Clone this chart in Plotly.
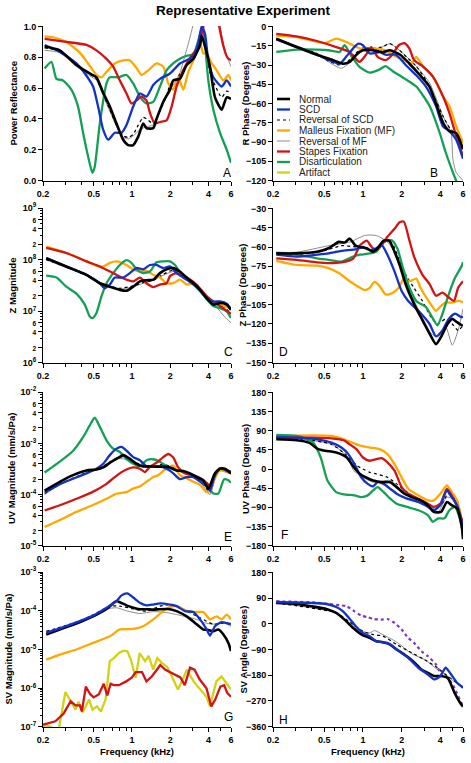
import math
import plotly.graph_objects as go

FONT = "Liberation Sans, Arial, sans-serif"

# ---------------- series styles ----------------
SERIES_NAMES = ["Normal", "SCD", "Reversal of SCD", "Malleus Fixation (MF)",
                "Reversal of MF", "Stapes Fixation", "Disarticulation", "Artifact"]
SERIES_COLORS = ["#000000", "#1432c8", "#000000", "#ffa800", "#8c8c8c",
                 "#d21414", "#14a054", "#d2d214"]
SERIES_WIDTHS = [2.6, 2.3, 1.2, 2.3, 1.0, 2.3, 2.3, 2.3]
SERIES_DASHES = ["solid", "solid", "dot", "solid", "solid", "solid", "solid", "solid"]
OTHER_COLOR = "#7a36c8"

# ---------------- tick labels ----------------
FREQ_TICKS = [0.2, 0.5, 1, 2, 4, 6]
FREQ_TICKTEXT = ["0.2", "0.5", "1", "2", "4", "6"]
FREQ_MINOR = [0.3, 0.4, 0.6, 0.7, 0.8, 0.9, 3, 5]

# ---------------- A: Power reflectance ----------------
A_NORMAL = [(0.206,0.87),(0.271,0.845),(0.366,0.75),(0.466,0.695),(0.526,0.67),(0.594,0.57),(0.67,0.48),(0.756,0.37),(0.853,0.265),(0.934,0.23),(1.023,0.23),(1.12,0.285),(1.226,0.37),(1.30,0.34),(1.47,0.34),(1.56,0.40),(1.76,0.51),(1.99,0.59),(2.11,0.65),(2.38,0.66),(2.69,0.75),(3.04,0.79),(3.43,0.88),(3.53,0.94),(3.75,0.87),(4.1,0.74),(4.49,0.54),(5.07,0.46),(5.55,0.54),(6.0,0.53)]
A_SCD = [(0.206,0.88),(0.271,0.835),(0.366,0.76),(0.439,0.68),(0.495,0.61),(0.542,0.48),(0.594,0.33),(0.65,0.265),(0.733,0.31),(0.828,0.31),(0.906,0.36),(1.023,0.48),(1.154,0.565),(1.30,0.545),(1.47,0.62),(1.66,0.66),(1.99,0.695),(2.38,0.76),(2.69,0.78),(3.04,0.81),(3.32,0.89),(3.53,1.0),(3.75,0.95),(3.98,0.78),(4.36,0.67),(5.07,0.61),(5.55,0.65),(6.0,0.61)]
A_REV_SCD = [(0.206,0.86),(0.271,0.84),(0.366,0.75),(0.466,0.69),(0.526,0.66),(0.594,0.56),(0.67,0.46),(0.756,0.36),(0.853,0.29),(0.934,0.28),(1.023,0.30),(1.12,0.36),(1.226,0.41),(1.30,0.40),(1.47,0.37),(1.66,0.45),(1.87,0.55),(1.99,0.62),(2.24,0.66),(2.53,0.72),(2.86,0.78),(3.22,0.85),(3.53,0.92),(3.75,0.88),(4.1,0.70),(4.49,0.62),(5.07,0.54),(5.55,0.58),(6.0,0.57)]
A_MF = [(0.206,0.935),(0.24,0.93),(0.305,0.90),(0.389,0.83),(0.452,0.76),(0.526,0.685),(0.576,0.67),(0.631,0.705),(0.733,0.76),(0.853,0.78),(0.963,0.78),(1.086,0.73),(1.19,0.685),(1.34,0.715),(1.56,0.76),(1.76,0.74),(1.93,0.63),(2.11,0.59),(2.31,0.67),(2.53,0.59),(2.77,0.705),(3.04,0.78),(3.43,0.89),(3.64,0.825),(3.87,0.825),(4.23,0.76),(4.63,0.715),(5.23,0.65),(5.72,0.685),(6.0,0.65)]
A_REV_MF = [(0.206,0.845),(0.271,0.83),(0.366,0.74),(0.466,0.68),(0.526,0.65),(0.594,0.55),(0.67,0.45),(0.756,0.35),(0.853,0.28),(0.934,0.27),(1.023,0.29),(1.154,0.33),(1.30,0.35),(1.47,0.36),(1.66,0.45),(1.87,0.56),(2.11,0.62),(2.38,0.70),(2.69,0.85),(2.94,0.97),(3.1,1.05),(3.5,1.2),(4.2,1.2),(4.8,1.05),(5.2,0.9),(5.6,0.8),(6.0,0.74)]
A_STAPES = [(0.206,0.92),(0.305,0.90),(0.439,0.88),(0.526,0.845),(0.631,0.79),(0.712,0.74),(0.803,0.65),(0.906,0.565),(0.992,0.50),(1.086,0.52),(1.19,0.545),(1.30,0.52),(1.383,0.44),(1.51,0.37),(1.66,0.38),(1.87,0.39),(2.05,0.48),(2.24,0.61),(2.46,0.695),(2.69,0.76),(2.94,0.81),(3.32,0.87),(3.53,0.95),(3.64,1.0),(3.9,1.15),(4.5,1.15),(4.85,1.0),(5.2,0.88),(5.6,0.80),(6.0,0.78)]
A_DISART = [(0.206,0.727),(0.233,0.77),(0.255,0.66),(0.287,0.65),(0.334,0.59),(0.377,0.48),(0.413,0.31),(0.452,0.157),(0.489,0.05),(0.51,0.09),(0.559,0.37),(0.631,0.63),(0.67,0.67),(0.779,0.67),(0.906,0.685),(1.023,0.63),(1.154,0.545),(1.30,0.50),(1.47,0.51),(1.66,0.61),(1.87,0.715),(2.11,0.76),(2.38,0.79),(2.69,0.81),(3.04,0.82),(3.43,0.95),(3.59,1.0),(3.75,0.89),(3.98,0.65),(4.36,0.46),(4.92,0.31),(5.55,0.2),(6.0,0.115)]

# ---------------- B: R phase (degrees) ----------------
B_NORMAL = [(0.212,-9.5),(0.305,-16),(0.439,-22),(0.58,-26),(0.70,-29),(0.79,-27.5),(0.89,-22),(1.0,-18.5),(1.2,-18.5),(1.43,-20),(1.62,-18.5),(1.95,-22),(2.3,-29),(2.7,-36.5),(3.3,-47),(3.7,-60),(4.2,-75),(4.7,-81.5),(5.3,-83),(6.0,-95.6)]
B_SCD = [(0.212,-10),(0.305,-16),(0.439,-22),(0.54,-26),(0.66,-29),(0.74,-23.6),(0.84,-17),(0.92,-13.4),(1.0,-14.6),(1.13,-21),(1.35,-20),(1.5,-22),(1.8,-22),(2.2,-31),(2.6,-38),(3.1,-47),(3.7,-62),(4.2,-78),(4.7,-81.5),(5.3,-88),(6.0,-103)]
B_REV_SCD = [(0.212,-9.5),(0.305,-15.5),(0.439,-21),(0.54,-27),(0.66,-30),(0.75,-28),(0.85,-22),(1.0,-17),(1.2,-17),(1.4,-16),(1.62,-13.4),(1.85,-17),(2.2,-24),(2.6,-31),(3.1,-42),(3.6,-55),(4.2,-70),(4.8,-80),(5.3,-84),(6.0,-90)]
B_MF = [(0.212,-7),(0.305,-8.2),(0.439,-12),(0.51,-12.9),(0.62,-9.5),(0.74,-12),(0.89,-16),(1.05,-18.5),(1.27,-17.2),(1.5,-18.5),(1.82,-23.6),(2.1,-26.2),(2.4,-28.8),(2.6,-23.6),(2.95,-31.4),(3.5,-39),(4.2,-54.5),(4.7,-62),(5.3,-77.6),(6.0,-90.5)]
B_REV_MF = [(0.212,-9),(0.305,-15),(0.439,-21),(0.54,-27.5),(0.68,-32.6),(0.79,-28),(1.0,-16),(1.27,-18),(1.62,-13.4),(1.95,-19),(2.6,-31),(3.3,-44),(4.2,-70),(4.85,-83),(5.0,-103),(5.3,-113.6),(6.0,-120)]
B_STAPES = [(0.212,-5.7),(0.305,-7.7),(0.439,-11.3),(0.62,-16),(0.79,-20),(0.94,-27.5),(1.05,-22.4),(1.16,-16),(1.3,-23.6),(1.5,-26.2),(1.68,-22.4),(1.9,-14.6),(2.1,-12.9),(2.3,-17.2),(2.5,-26.2),(2.95,-31.4),(3.5,-39),(4.2,-54.5),(4.7,-67.4),(5.3,-85),(6.0,-101)]
B_DISART = [(0.212,-19.8),(0.305,-18),(0.439,-18),(0.54,-18.5),(0.66,-19.8),(0.72,-14.6),(0.82,-23.6),(0.94,-31.4),(1.13,-36),(1.35,-33.4),(1.5,-30.8),(1.72,-35),(2.1,-40.4),(2.6,-46.8),(3.3,-62),(3.95,-82.8),(4.4,-98),(5.0,-113.6),(5.3,-120),(5.6,-126)]

# ---------------- C: Z magnitude ----------------
C_NORMAL = [(0.212,1.07e8),(0.305,7.4e7),(0.439,5.1e7),(0.559,3.5e7),(0.67,3.0e7),(0.803,2.6e7),(0.906,2.5e7),(1.023,3.0e7),(1.154,3.8e7),(1.30,4.0e7),(1.47,4.1e7),(1.66,5.5e7),(1.87,6.5e7),(2.11,6.9e7),(2.38,5.9e7),(2.69,4.5e7),(3.04,3.5e7),(3.43,2.6e7),(3.87,1.8e7),(4.36,1.35e7),(4.92,1.45e7),(5.55,1.35e7),(6.0,1.07e7)]
C_SCD = [(0.212,1.07e8),(0.305,7.4e7),(0.439,5.1e7),(0.559,3.5e7),(0.612,2.8e7),(0.67,3.3e7),(0.733,4.5e7),(0.853,4.5e7),(0.963,5.5e7),(1.086,6.9e7),(1.226,6.5e7),(1.383,7.9e7),(1.56,7.9e7),(1.76,6.9e7),(1.99,7.4e7),(2.24,5.5e7),(2.69,4.1e7),(3.22,3.0e7),(3.87,1.8e7),(4.36,1.55e7),(4.92,1.55e7),(5.55,1.4e7),(6.0,1.07e7)]
C_REV_SCD = [(0.212,1.0e8),(0.305,7.2e7),(0.439,5.0e7),(0.559,3.6e7),(0.67,3.1e7),(0.803,2.8e7),(1.023,3.1e7),(1.226,3.6e7),(1.47,4.0e7),(1.76,5.2e7),(2.11,6.3e7),(2.53,5.2e7),(3.04,3.5e7),(3.87,1.8e7),(4.62,1.4e7),(5.3,1.2e7),(6.0,9e6)]
C_MF = [(0.212,1.8e8),(0.305,1.35e8),(0.439,9.3e7),(0.526,7.6e7),(0.594,7.4e7),(0.67,8.7e7),(0.756,9.3e7),(0.906,7.9e7),(1.023,6.5e7),(1.154,5.9e7),(1.30,6.1e7),(1.47,5.1e7),(1.66,4.5e7),(1.87,3.5e7),(2.11,3.5e7),(2.38,4.1e7),(2.69,3.3e7),(3.04,3.5e7),(3.43,2.6e7),(3.87,1.95e7),(4.36,1.45e7),(4.92,1.35e7),(6.0,1.15e7)]
C_REV_MF = [(0.212,1.0e8),(0.305,7.0e7),(0.439,4.9e7),(0.559,3.5e7),(0.67,3.0e7),(0.803,2.7e7),(1.023,3.0e7),(1.226,3.5e7),(1.47,4.0e7),(1.76,5.0e7),(2.11,5.9e7),(2.53,5.0e7),(3.04,3.4e7),(3.87,1.8e7),(4.62,1.2e7),(5.3,8e6),(6.0,6e6)]
C_STAPES = [(0.212,1.7e8),(0.305,1.35e8),(0.439,9.3e7),(0.559,7.4e7),(0.712,5.5e7),(0.906,4.1e7),(1.023,3.8e7),(1.154,4.5e7),(1.30,3.5e7),(1.47,2.95e7),(1.66,3.3e7),(1.87,3.5e7),(1.99,4.8e7),(2.24,5.5e7),(2.69,4.5e7),(3.22,3.3e7),(3.87,1.95e7),(4.36,1.55e7),(4.92,1.26e7),(6.0,8.9e6)]
C_DISART = [(0.212,4.9e7),(0.255,4.5e7),(0.305,3.0e7),(0.366,2.2e7),(0.426,1.35e7),(0.466,7.9e6),(0.489,7.4e6),(0.526,9.3e6),(0.576,1.95e7),(0.631,3.5e7),(0.712,5.5e7),(0.803,7.9e7),(0.906,9.8e7),(0.992,8.7e7),(1.086,6.5e7),(1.226,5.5e7),(1.383,5.9e7),(1.56,8.9e7),(1.76,9.3e7),(1.99,9.3e7),(2.18,7.9e7),(2.46,5.1e7),(2.86,3.8e7),(3.43,2.45e7),(3.87,1.7e7),(4.36,1.26e7),(4.92,1.15e7),(5.55,1.0e7),(6.0,7.4e6)]

# ---------------- D: Z phase (degrees) ----------------
D_NORMAL = [(0.212,-65),(0.305,-65),(0.439,-63.7),(0.54,-61),(0.65,-56),(0.72,-56.5),(0.79,-53.5),(0.87,-58.6),(0.95,-60),(1.07,-61),(1.2,-63.7),(1.3,-61),(1.45,-55),(1.6,-55),(1.76,-63.7),(1.93,-74),(2.15,-89),(2.5,-104.5),(2.9,-117),(3.3,-127.5),(3.7,-135.7),(4.05,-130),(4.55,-120),(4.95,-116),(5.4,-118.6),(5.9,-121),(6.0,-120.5)]
D_SCD = [(0.212,-66),(0.305,-67.5),(0.439,-66),(0.54,-65),(0.68,-63),(0.89,-61.6),(1.0,-60),(1.13,-62.4),(1.27,-61),(1.4,-58.6),(1.55,-66),(1.76,-79),(2.0,-94.3),(2.25,-102),(2.7,-109.7),(3.3,-120),(3.7,-129.6),(4.15,-125),(4.65,-116),(5.2,-112),(5.85,-114.8),(6.0,-114)]
D_REV_SCD = [(0.212,-65),(0.305,-66),(0.439,-64),(0.54,-62),(0.68,-59),(0.89,-60),(1.0,-60),(1.27,-63.7),(1.45,-56),(1.68,-57),(1.9,-69),(2.15,-81.5),(2.5,-92),(2.9,-102),(3.4,-115),(3.8,-120),(4.4,-116),(4.95,-120),(5.5,-125),(6.0,-121)]
D_MF = [(0.212,-70.8),(0.305,-74),(0.439,-74.5),(0.54,-76.5),(0.65,-80.3),(0.79,-86.7),(0.95,-91.8),(1.03,-93.6),(1.13,-91.8),(1.23,-87.2),(1.35,-90.5),(1.5,-97),(1.68,-96),(1.9,-91.8),(2.08,-84.6),(2.3,-86.7),(2.6,-84.6),(2.8,-91.8),(3.3,-103.3),(3.7,-109.7),(4.05,-105.8),(4.4,-103.3),(4.95,-103.3),(5.5,-102),(6.0,-103)]
D_REV_MF = [(0.212,-64),(0.305,-64),(0.54,-59),(0.8,-56),(1.03,-51),(1.27,-51),(1.55,-56),(1.9,-69),(2.25,-92),(2.9,-114.8),(3.4,-127.5),(3.85,-130),(4.4,-122),(4.95,-136.5),(5.5,-125),(6.0,-108)]
D_STAPES = [(0.212,-68.8),(0.305,-70),(0.439,-72),(0.54,-72.6),(0.68,-72),(0.84,-69),(0.95,-58.6),(1.07,-55),(1.17,-60),(1.27,-62.4),(1.4,-58.6),(1.55,-52),(1.76,-45.8),(1.93,-40.7),(2.08,-40.2),(2.3,-55),(2.5,-67.5),(2.9,-81.5),(3.3,-89),(3.7,-98),(4.15,-95.6),(4.65,-99.4),(5.1,-102),(5.5,-91.8),(6.0,-86.7)]
D_DISART = [(0.212,-65),(0.305,-66),(0.439,-68.8),(0.54,-70),(0.68,-71.4),(0.84,-67.5),(0.95,-66),(1.13,-65),(1.27,-63.7),(1.45,-56),(1.68,-54.8),(1.85,-61),(2.05,-76.5),(2.3,-91.8),(2.6,-102),(3.1,-107),(3.4,-113.5),(3.8,-121),(4.15,-112.2),(4.65,-96.9),(5.2,-84),(5.85,-75),(6.0,-71.8)]

# ---------------- E: UV magnitude (mm/s/Pa) ----------------
E_NORMAL = [(0.206,1.2e-4),(0.271,1.78e-4),(0.345,2.4e-4),(0.439,2.95e-4),(0.526,3.1e-4),(0.594,3.4e-4),(0.69,4.4e-4),(0.779,5.2e-4),(0.853,5.9e-4),(0.963,5.0e-4),(1.086,4.0e-4),(1.226,3.55e-4),(1.383,3.55e-4),(1.561,3.5e-4),(1.761,3.55e-4),(1.988,3.4e-4),(2.243,2.95e-4),(2.532,2.9e-4),(2.857,2.6e-4),(3.224,2.2e-4),(3.638,1.9e-4),(3.98,1.3e-4),(4.106,1.5e-4),(4.49,2.6e-4),(4.92,3.2e-4),(5.38,3.2e-4),(6.0,2.6e-4)]
E_SCD = [(0.206,1.1e-4),(0.271,1.6e-4),(0.439,2.6e-4),(0.526,3.2e-4),(0.594,4.0e-4),(0.67,5.9e-4),(0.756,7.9e-4),(0.828,8.5e-4),(0.906,7.2e-4),(1.023,5.4e-4),(1.154,4.7e-4),(1.302,3.55e-4),(1.47,3.55e-4),(1.658,3.5e-4),(1.871,3.2e-4),(2.112,2.6e-4),(2.383,2.0e-4),(2.689,2.2e-4),(3.035,2.2e-4),(3.425,1.8e-4),(3.865,1.45e-4),(4.106,1.2e-4),(4.49,2.4e-4),(4.92,3.2e-4),(6.0,2.8e-4)]
E_REV_SCD = [(0.206,1.05e-4),(0.271,1.6e-4),(0.439,2.7e-4),(0.594,3.6e-4),(0.69,4.5e-4),(0.779,5.4e-4),(0.853,5.5e-4),(0.963,4.8e-4),(1.154,3.9e-4),(1.47,3.6e-4),(1.761,3.9e-4),(1.988,3.6e-4),(2.383,2.9e-4),(2.857,2.5e-4),(3.425,2.0e-4),(4.106,1.1e-4),(4.49,2.3e-4),(4.92,3.0e-4),(6.0,2.7e-4)]
E_MF = [(0.206,2.35e-5),(0.271,3.2e-5),(0.366,4.6e-5),(0.489,6.2e-5),(0.631,8.3e-5),(0.756,1.05e-4),(0.906,1.12e-4),(1.023,1.32e-4),(1.154,1.45e-4),(1.302,1.78e-4),(1.47,2.2e-4),(1.61,2.4e-4),(1.761,2.9e-4),(1.93,3.4e-4),(2.112,3.7e-4),(2.383,2.4e-4),(2.689,2.1e-4),(3.035,1.78e-4),(3.425,1.55e-4),(3.865,1.12e-4),(4.106,1.2e-4),(4.49,2.1e-4),(4.92,3.0e-4),(6.0,2.6e-4)]
E_REV_MF = [(0.206,1.0e-4),(0.271,1.55e-4),(0.439,2.6e-4),(0.594,3.5e-4),(0.69,4.4e-4),(0.779,5.0e-4),(0.853,5.0e-4),(0.963,4.4e-4),(1.154,3.8e-4),(1.47,3.5e-4),(1.761,3.6e-4),(1.988,3.4e-4),(2.383,2.8e-4),(2.857,2.4e-4),(3.425,1.8e-4),(4.106,1.0e-4),(4.49,2.0e-4),(4.92,2.9e-4),(6.0,2.5e-4)]
E_STAPES = [(0.206,4.9e-5),(0.271,6.2e-5),(0.366,8.3e-5),(0.489,1.12e-4),(0.631,1.62e-4),(0.733,2.2e-4),(0.828,2.75e-4),(0.934,3.2e-4),(1.023,3.4e-4),(1.154,3.2e-4),(1.263,2.75e-4),(1.383,3.5e-4),(1.561,4.2e-4),(1.761,5.4e-4),(1.93,6.2e-4),(2.112,5.3e-4),(2.31,3.4e-4),(2.61,2.6e-4),(3.035,2.4e-4),(3.425,2.1e-4),(3.865,1.7e-4),(4.106,1.45e-4),(4.49,2.4e-4),(4.92,3.3e-4),(6.0,2.6e-4)]
E_DISART = [(0.206,2.7e-4),(0.271,4.4e-4),(0.345,7.2e-4),(0.413,1.32e-3),(0.466,2.24e-3),(0.51,3.16e-3),(0.559,2.1e-3),(0.631,1.15e-3),(0.712,7.9e-4),(0.803,6.8e-4),(0.906,5.0e-4),(1.023,4.0e-4),(1.154,3.6e-4),(1.302,4.7e-4),(1.47,4.9e-4),(1.658,4.4e-4),(1.871,3.55e-4),(2.112,3.1e-4),(2.383,2.9e-4),(2.689,2.6e-4),(3.224,2.2e-4),(3.865,1.45e-4),(4.362,1.05e-4),(4.77,1.05e-4),(5.3,2.0e-4),(5.72,1.9e-4),(6.0,1.7e-4)]

# ---------------- F: UV phase (degrees) ----------------
F_NORMAL = [(0.212,69.8),(0.305,67.5),(0.38,62),(0.45,46.6),(0.51,42.7),(0.62,38.8),(0.75,27),(0.85,4),(0.95,-11.6),(1.05,-19.4),(1.2,-27),(1.43,-31),(1.63,-31),(1.83,-42.6),(2.1,-58),(2.4,-66),(2.8,-73.7),(3.2,-85),(3.55,-100.8),(4.05,-100.8),(4.5,-77.6),(4.9,-85),(5.4,-93),(5.9,-139.6),(6.0,-165)]
F_SCD = [(0.212,75.3),(0.305,73.7),(0.44,69.8),(0.57,62),(0.68,50.4),(0.77,35),(0.86,11.6),(0.97,-19.4),(1.09,-35),(1.2,-41),(1.3,-31),(1.45,-35),(1.63,-46.5),(1.83,-58),(2.2,-69.8),(2.7,-77.6),(3.2,-89),(3.55,-97),(4.0,-85),(4.5,-50.4),(4.9,-66),(5.4,-85),(6.0,-135.7)]
F_REV_SCD = [(0.212,73.7),(0.305,72),(0.57,58),(0.75,32),(0.9,7.8),(1.0,0),(1.13,-8),(1.27,-11.6),(1.55,-19.4),(1.83,-35),(2.2,-54),(2.8,-73.7),(3.55,-89),(4.1,-81.5),(4.6,-58),(5.0,-66),(5.4,-74),(6.0,-135)]
F_MF = [(0.212,77.6),(0.41,79),(0.57,77.6),(0.71,70),(0.86,60),(0.97,54.3),(1.13,50.4),(1.35,46.6),(1.55,35),(1.76,11.6),(2.0,-19.4),(2.25,-46.5),(2.7,-62),(3.2,-73.7),(3.55,-73.7),(4.0,-58),(4.5,-38.8),(4.9,-54.3),(5.4,-73.7),(6.0,-135.7)]
F_REV_MF = [(0.212,73.7),(0.305,72),(0.57,58),(0.75,30),(0.85,-4),(1.0,-19.4),(1.2,-31),(1.63,-27),(2.1,-58),(2.7,-77.6),(3.4,-89),(3.85,-100.8),(4.5,-66),(5.4,-77.6),(6.0,-135.7)]
F_STAPES = [(0.212,73.7),(0.41,73.7),(0.57,72),(0.71,67.5),(0.79,58),(0.89,46.6),(1.0,27),(1.13,19.4),(1.27,23.3),(1.4,25.6),(1.55,15.5),(1.76,-3.9),(2.0,-42.6),(2.25,-58),(2.7,-69.8),(3.2,-81.5),(3.55,-89),(4.0,-81.5),(4.5,-46.5),(4.9,-62),(5.4,-89),(6.0,-128)]
F_DISART = [(0.212,80),(0.305,77.6),(0.35,73),(0.41,62),(0.47,27),(0.53,-27),(0.62,-54.3),(0.71,-59.7),(0.86,-62),(0.97,-66),(1.09,-62),(1.2,-50.4),(1.3,-42.6),(1.45,-54.3),(1.63,-69.8),(1.83,-81.5),(2.2,-89),(2.7,-97),(3.2,-108.6),(3.5,-124),(3.85,-116),(4.3,-116),(4.7,-97),(5.2,-89),(5.8,-128),(6.0,-159)]

# ---------------- G: SV magnitude (mm/s/Pa) ----------------
G_NORMAL = [(0.212,2.45e-5),(0.271,3.3e-5),(0.366,4.7e-5),(0.495,7.2e-5),(0.631,1.12e-4),(0.756,1.78e-4),(0.803,1.66e-4),(0.906,1.38e-4),(1.023,1.2e-4),(1.154,1.1e-4),(1.302,1.1e-4),(1.47,1.07e-4),(1.658,1.1e-4),(1.988,1.1e-4),(2.243,9.8e-5),(2.689,7.2e-5),(3.224,4.5e-5),(3.638,3.3e-5),(3.98,3.2e-5),(4.362,2.95e-5),(4.77,3.3e-5),(5.23,2.45e-5),(5.72,1.48e-5),(6.0,9.1e-6)]
G_SCD = [(0.212,2.7e-5),(0.271,3.5e-5),(0.366,5.0e-5),(0.495,7.5e-5),(0.631,1.2e-4),(0.756,1.78e-4),(0.828,2.5e-4),(0.92,2.8e-4),(1.023,2.2e-4),(1.154,1.62e-4),(1.302,1.38e-4),(1.47,1.45e-4),(1.658,1.55e-4),(1.988,1.45e-4),(2.243,1.32e-4),(2.61,9.8e-5),(3.035,9.3e-5),(3.425,6.0e-5),(3.865,3.3e-5),(4.106,2.3e-5),(4.49,4.0e-5),(5.07,5.1e-5),(5.55,4.8e-5),(6.0,4.5e-5)]
G_REV_SCD = [(0.212,2.95e-5),(0.366,5.1e-5),(0.5,8e-5),(0.67,1.32e-4),(0.803,1.32e-4),(1.023,1.12e-4),(1.302,9.8e-5),(1.658,1.32e-4),(2.112,1.45e-4),(2.689,9.8e-5),(3.425,6.6e-5),(4.362,4.5e-5),(5.55,4.9e-5),(6.0,4.0e-5)]
G_MF = [(0.212,5.5e-6),(0.271,7.4e-6),(0.366,1.0e-5),(0.495,1.48e-5),(0.67,2.2e-5),(0.803,3.3e-5),(1.023,3.4e-5),(1.226,4.0e-5),(1.47,6.0e-5),(1.761,9.8e-5),(1.988,1.26e-4),(2.243,1.32e-4),(2.689,1.0e-4),(3.224,9.3e-5),(3.638,9.3e-5),(4.106,6.0e-5),(4.634,7.2e-5),(5.07,6.0e-5),(5.55,8.0e-5),(6.0,6.0e-5)]
G_REV_MF = [(0.212,2.6e-5),(0.366,4.6e-5),(0.5,7.2e-5),(0.631,1.1e-4),(0.756,1.2e-4),(0.906,1.0e-4),(1.154,8.5e-5),(1.47,9.5e-5),(1.87,9.0e-5),(2.24,8.0e-5),(2.69,7.0e-5),(3.22,6.0e-5),(3.64,5.0e-5),(4.36,4.5e-5),(5.23,4.9e-5),(6.0,4.0e-5)]
G_STAPES = [(0.2,1.15e-7),(0.25,1.4e-7),(0.29,2.2e-7),(0.33,4.6e-7),(0.36,3.6e-7),(0.39,3.6e-7),(0.404,2.5e-7),(0.434,1.1e-6),(0.47,7e-7),(0.5,5.8e-7),(0.55,7e-7),(0.6,1.3e-6),(0.64,6.5e-7),(0.68,1.3e-6),(0.72,1.2e-6),(0.79,1.2e-6),(0.9,1.5e-6),(1.0,1.9e-6),(1.07,2.6e-6),(1.2,2.6e-6),(1.3,1.5e-6),(1.43,2.0e-6),(1.57,3.0e-6),(1.67,4.0e-6),(1.83,3.0e-6),(2.0,2.6e-6),(2.2,2.2e-6),(2.4,1.9e-6),(2.6,1.2e-6),(2.86,3.4e-6),(3.1,3.0e-6),(3.4,1.7e-6),(3.85,1.0e-6),(4.2,3.4e-7),(4.5,5e-7),(4.95,1.1e-6),(5.3,1.2e-6),(5.6,7.6e-7),(6.0,6.0e-7)]
G_ARTIFACT = [(0.2,1.0e-7),(0.215,1.1e-7),(0.245,9e-8),(0.265,8e-8),(0.3,8e-7),(0.33,4.8e-7),(0.36,2.8e-7),(0.38,4.5e-7),(0.41,2.4e-7),(0.46,5.1e-7),(0.49,2.8e-7),(0.53,3.4e-7),(0.57,2.5e-7),(0.62,5.1e-7),(0.67,5.0e-6),(0.72,6.0e-6),(0.79,8.1e-6),(0.86,9.3e-6),(0.92,9.0e-6),(0.98,5.5e-6),(1.07,1.86e-6),(1.15,8.1e-6),(1.27,5.0e-6),(1.35,6.8e-6),(1.47,3.0e-6),(1.58,6.0e-6),(1.72,4.5e-6),(1.9,3.5e-6),(2.1,1.66e-6),(2.3,9.3e-7),(2.5,1.66e-6),(2.7,3.0e-6),(3.05,1.5e-6),(3.4,1.0e-6),(3.85,6e-7),(4.1,3.4e-7),(4.6,1.5e-6),(5.05,2.0e-6),(5.6,1.3e-6),(6.0,9.3e-7)]

# ---------------- H: SV angle (degrees) ----------------
H_NORMAL = [(0.212,73),(0.305,69.4),(0.4,61.3),(0.52,52),(0.62,38),(0.72,14.7),(0.84,-14.4),(0.98,-37.7),(1.13,-49.3),(1.27,-61),(1.43,-64.5),(1.63,-72.6),(1.83,-90),(2.1,-107.5),(2.45,-130.8),(2.85,-160),(3.2,-171.6),(3.6,-183),(4.0,-183),(4.55,-189),(5.15,-241),(5.8,-282),(6.0,-290)]
H_SCD = [(0.212,76.4),(0.4,73),(0.52,69.4),(0.62,59),(0.7,43.8),(0.78,20.5),(0.88,-8.6),(1.0,-32),(1.13,-43.5),(1.27,-61),(1.55,-66.8),(1.83,-90),(2.25,-119),(2.7,-154),(3.2,-177.4),(3.6,-195),(4.0,-183),(4.4,-154),(4.85,-177.4),(5.4,-206.5),(6.0,-224)]
H_REV_SCD = [(0.212,73),(0.62,38),(0.78,8),(1.0,-26),(1.2,-37.7),(1.43,-43),(1.83,-72.6),(2.4,-101.7),(3.0,-125),(3.8,-154),(4.55,-183),(5.4,-206.5),(6.0,-224)]
H_REV_MF = [(0.212,73),(0.62,38),(0.75,3),(0.9,-20),(1.13,-32),(1.23,-23.7),(1.43,-38),(1.83,-64),(2.4,-105),(3.0,-125),(3.8,-160),(4.55,-183),(5.4,-210),(6.0,-218)]
H_OTHER = [(0.212,78.7),(0.305,77),(0.4,75.2),(0.54,69.4),(0.66,65),(0.75,61.3),(0.86,43.8),(0.97,28.7),(1.09,22.8),(1.22,17),(1.38,14.7),(1.55,17),(1.76,3),(2.0,-20.2),(2.25,-49.3),(2.5,-66.8),(2.85,-96),(3.2,-113.4),(3.7,-142.5),(4.15,-183),(4.55,-189),(5.15,-224),(5.8,-276),(6.0,-285)]

# ---------------- panel definitions ----------------
PANEL_SERIES = [
    [(4, A_REV_MF), (2, A_REV_SCD), (3, A_MF), (6, A_DISART), (5, A_STAPES), (1, A_SCD), (0, A_NORMAL)],
    [(4, B_REV_MF), (2, B_REV_SCD), (3, B_MF), (6, B_DISART), (5, B_STAPES), (1, B_SCD), (0, B_NORMAL)],
    [(4, C_REV_MF), (2, C_REV_SCD), (3, C_MF), (6, C_DISART), (5, C_STAPES), (1, C_SCD), (0, C_NORMAL)],
    [(4, D_REV_MF), (2, D_REV_SCD), (3, D_MF), (6, D_DISART), (5, D_STAPES), (1, D_SCD), (0, D_NORMAL)],
    [(4, E_REV_MF), (2, E_REV_SCD), (3, E_MF), (6, E_DISART), (5, E_STAPES), (1, E_SCD), (0, E_NORMAL)],
    [(4, F_REV_MF), (2, F_REV_SCD), (3, F_MF), (6, F_DISART), (5, F_STAPES), (1, F_SCD), (0, F_NORMAL)],
    [(4, G_REV_MF), (2, G_REV_SCD), (3, G_MF), (7, G_ARTIFACT), (5, G_STAPES), (0, G_NORMAL), (1, G_SCD)],
    [(4, H_REV_MF), (2, H_REV_SCD), (-1, H_OTHER), (0, H_NORMAL), (1, H_SCD)],
]
JAGGED = {7}
PANEL_LETTERS = ["A", "B", "C", "D", "E", "F", "G", "H"]
Y_TITLES = ["Power Reflectance", "R Phase (Degrees)", "Z Magnitude", "Z Phase (Degrees)",
            "UV Magnitude (mm/s/Pa)", "UV Phase (Degrees)", "SV Magnitude (mm/s/Pa)",
            "SV Angle (Degrees)"]


def small(s):
    return "<span style='font-size:6.5px'>%s</span>" % s


def log_ticks(d0, d1, mids):
    vals, text = [], []
    for d in range(d0, d1 + 1):
        vals.append(10.0 ** d)
        text.append("10<sup>%d</sup>" % d)
        if d < d1:
            for m in mids:
                vals.append(m * 10.0 ** d)
                text.append(small(str(m)))
    return vals, text


def log_minor(d0, d1, mids):
    return [m * 10.0 ** d for d in range(d0, d1) for m in mids]


C_TV, C_TT = log_ticks(6, 9, [2, 4, 6])
E_TV, E_TT = log_ticks(-5, -2, [2, 4, 6])
G_TV, G_TT = log_ticks(-7, -3, [])

Y_AXES = [
    dict(type="linear", range=[-0.003, 1.003], tickvals=[0, 0.2, 0.4, 0.6, 0.8, 1.0],
         ticktext=["0.0", "0.2", "0.4", "0.6", "0.8", "1.0"]),
    dict(type="linear", range=[-120.4, 0.4], tickvals=list(range(-120, 1, 15))),
    dict(type="log", range=[5.998, 9.002], tickvals=C_TV, ticktext=C_TT,
         minor=log_minor(6, 9, [3, 5, 7, 8, 9])),
    dict(type="linear", range=[-150.4, -29.6], tickvals=list(range(-150, -29, 15))),
    dict(type="log", range=[-5.002, -1.998], tickvals=E_TV, ticktext=E_TT,
         minor=log_minor(-5, -2, [3, 5, 7, 8, 9])),
    dict(type="linear", range=[-181, 181], tickvals=list(range(-180, 181, 45))),
    dict(type="log", range=[-7.002, -2.998], tickvals=G_TV, ticktext=G_TT,
         minor=log_minor(-7, -3, [2, 3, 4, 5, 6, 7, 8, 9])),
    dict(type="linear", range=[-361.5, 181.5], tickvals=list(range(-360, 181, 90))),
]

# ---------------- layout geometry (pixels) ----------------
W, H = 471, 763
COL_X = [(43, 231), (273, 463)]
ROW_Y = [(26, 181), (208, 363), (392, 546), (572, 727)]
LETTER_POS = [(227, 173), (434, 173), (228, 352), (283, 352),
              (228, 537), (284, 535), (228, 717), (283, 720)]
YTITLE_X = [13, 245, 12, 242, 11, 245, 8, 243]

fig = go.Figure()

for p, series in enumerate(PANEL_SERIES):
    ax = "" if p == 0 else str(p + 1)
    for idx, data in series:
        fx = [d[0] for d in data]
        fy = [d[1] for d in data]
        if idx == -1:
            line = dict(color=OTHER_COLOR, width=2.2, dash="dot", shape="spline", smoothing=0.6)
            name = "Other"
        else:
            shape = "linear" if (idx in JAGGED or (p == 6 and idx == 5)) else "spline"
            line = dict(color=SERIES_COLORS[idx], width=SERIES_WIDTHS[idx],
                        dash=SERIES_DASHES[idx], shape=shape)
            if shape == "spline":
                line["smoothing"] = 0.6
            name = SERIES_NAMES[idx]
        fig.add_trace(go.Scatter(x=fx, y=fy, mode="lines", line=line, name=name,
                                 showlegend=False, xaxis="x" + ax, yaxis="y" + ax,
                                 hoverinfo="skip"))

tickfont = dict(family=FONT, size=9, color="black", weight="bold")
titlefont = dict(family=FONT, size=9.5, color="black", weight="bold")

layout = dict(width=W, height=H, margin=dict(l=0, r=0, t=0, b=0, autoexpand=False),
              paper_bgcolor="white", plot_bgcolor="white", showlegend=False)

annotations = []
shapes = []

for p in range(8):
    row, col = p // 2, p % 2
    ax = "" if p == 0 else str(p + 1)
    x0, x1 = COL_X[col]
    y0, y1 = ROW_Y[row]
    xa = dict(domain=[x0 / W, x1 / W], type="log",
              range=[math.log10(0.2), math.log10(6)],
              tickmode="array", tickvals=FREQ_TICKS, ticktext=FREQ_TICKTEXT,
              ticks="outside", ticklen=4, tickwidth=1, tickcolor="black",
              showline=True, linecolor="black", linewidth=1,
              showgrid=False, zeroline=False, tickfont=tickfont,
              automargin=False, ticklabeloverflow="allow",
              minor=dict(tickmode="array", tickvals=FREQ_MINOR, ticks="outside",
                         ticklen=2.5, tickcolor="black", showgrid=False),
              anchor="y" + ax, fixedrange=True)
    if row == 3:
        xa["title"] = dict(text="Frequency (kHz)", font=titlefont, standoff=4)
    yc = Y_AXES[p]
    ya = dict(domain=[1 - y1 / H, 1 - y0 / H], type=yc["type"], range=yc["range"],
              tickmode="array", tickvals=yc["tickvals"],
              ticks="outside", ticklen=4, tickwidth=1, tickcolor="black",
              showline=True, linecolor="black", linewidth=1,
              showgrid=False, zeroline=False, tickfont=tickfont,
              automargin=False, ticklabeloverflow="allow",
              anchor="x" + ax, fixedrange=True)
    if "ticktext" in yc:
        ya["ticktext"] = yc["ticktext"]
    if "minor" in yc:
        ya["minor"] = dict(tickmode="array", tickvals=yc["minor"], ticks="outside",
                           ticklen=2, tickcolor="black", showgrid=False)
    layout["xaxis" + ax] = xa
    layout["yaxis" + ax] = ya
    annotations.append(dict(text=Y_TITLES[p], x=YTITLE_X[p] / W, y=1 - (y0 + y1) / 2 / H,
                            xref="paper", yref="paper", showarrow=False, textangle=-90,
                            xanchor="center", yanchor="middle", font=titlefont))
    lx, ly = LETTER_POS[p]
    annotations.append(dict(text=PANEL_LETTERS[p], x=lx / W, y=1 - ly / H,
                            xref="paper", yref="paper", showarrow=False,
                            xanchor="center", yanchor="middle",
                            font=dict(family=FONT, size=12, color="black")))

annotations.append(dict(text="Representative Experiment", x=243 / W, y=1 - 10 / H,
                        xref="paper", yref="paper", showarrow=False,
                        xanchor="center", yanchor="middle",
                        font=dict(family=FONT, size=13.5, color="black", weight="bold")))

# legend (inside panel B)
LEG_X0, LEG_X1, LEG_TX = 277, 290, 297
LEG_Y0, LEG_DY = 99, 10.5
for i, nm in enumerate(SERIES_NAMES):
    yy = 1 - (LEG_Y0 + i * LEG_DY) / H
    shapes.append(dict(type="line", xref="paper", yref="paper",
                       x0=LEG_X0 / W, x1=LEG_X1 / W, y0=yy, y1=yy,
                       line=dict(color=SERIES_COLORS[i], width=SERIES_WIDTHS[i],
                                 dash=SERIES_DASHES[i])))
    annotations.append(dict(text=nm, x=LEG_TX / W, y=yy, xref="paper", yref="paper",
                            showarrow=False, xanchor="left", yanchor="middle",
                            font=dict(family=FONT, size=10, color="#222222")))

layout["annotations"] = annotations
layout["shapes"] = shapes
fig.update_layout(layout)

fig.write_html("out.html", include_plotlyjs=True, config={"displayModeBar": False},
               post_script="document.body.style.margin='0px';")
